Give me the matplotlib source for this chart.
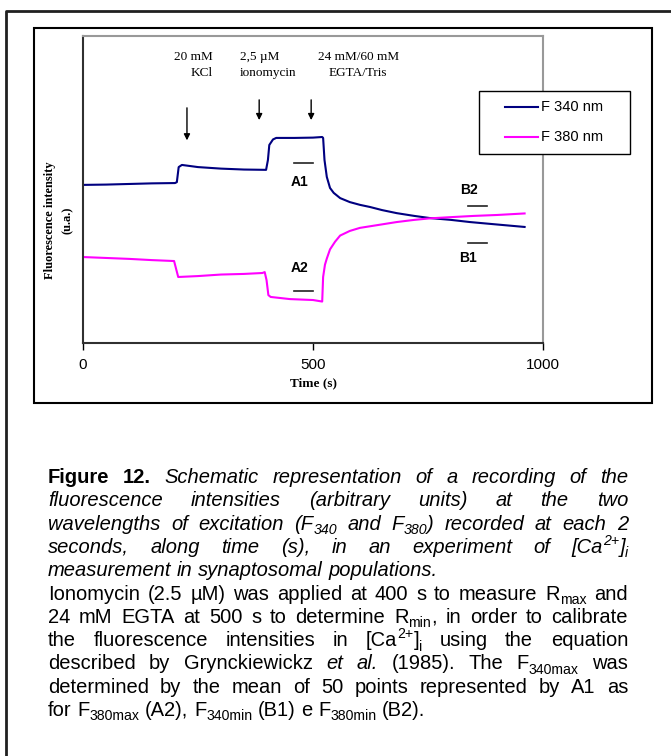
import matplotlib
matplotlib.use("Agg")
import matplotlib.pyplot as plt
from matplotlib.patches import Rectangle
from matplotlib.lines import Line2D

# traces (time in s, intensity in arbitrary units)
t340 = [0, 50, 100, 150, 200, 204, 208, 215, 250, 300, 350, 398, 402, 405, 413, 420,
        460, 500, 520, 522, 525, 530, 537, 545, 559, 580, 602, 624, 650, 682, 720,
        754, 800, 841, 900, 960]
f340 = [51.5, 51.6, 51.8, 52.0, 52.1, 52.4, 57.3, 58.0, 57.3, 56.8, 56.5, 56.4, 59.6,
        64.5, 66.3, 66.8, 66.8, 66.9, 67.1, 66.8, 59.6, 54.1, 50.5, 48.9, 47.2, 45.9,
        45.0, 44.3, 43.3, 42.3, 41.4, 40.7, 40.1, 39.4, 38.6, 37.8]
t380 = [0, 50, 100, 150, 198, 203, 207, 250, 300, 350, 390, 395, 399, 403, 408, 450,
        500, 520, 522, 526, 530, 537, 548, 559, 580, 602, 640, 682, 720, 754, 800,
        850, 900, 960]
f380 = [28.0, 27.7, 27.4, 27.0, 26.7, 23.8, 21.5, 21.8, 22.3, 22.5, 22.8, 23.1, 20.5,
        15.6, 15.0, 14.3, 14.0, 13.5, 21.5, 25.5, 27.5, 30.5, 33.0, 35.0, 36.5, 37.5,
        38.4, 39.4, 40.1, 40.6, 41.0, 41.4, 41.7, 42.2]
series = ["F 340 nm", "F 380 nm"]
colors = ["#000080", "#ff00ff"]

# additions (arrows)
add_t = [226, 383, 496]
add_txt = [("20 mM", "KCl"), ("2,5 \u00b5M", "ionomycin"), ("24 mM/60 mM", "EGTA/Tris")]

# averaged stretches A1, A2, B1, B2
mark_lbl = ["A1", "A2", "B1", "B2"]
mark_t0 = [459, 459, 838, 838]
mark_t1 = [500, 500, 878, 878]
mark_y = [58.6, 16.9, 32.6, 44.6]
mark_lbl_t = [471, 471, 837, 839]
mark_lbl_y = [52.4, 24.4, 27.7, 49.8]

xticks = [0, 500, 1000]

W, H = 671, 756
fig = plt.figure(figsize=(W / 100, H / 100), dpi=100)

def fx(px):
    return px / W

def fy(py):
    return 1 - py / H

# frames
fig.add_artist(Line2D([fx(6), fx(6), 1], [0, fy(11), fy(11)], color="#202020", lw=2))
fig.add_artist(Rectangle((fx(34), fy(403)), fx(652) - fx(34), fy(28) - fy(403),
                         fill=False, ec="black", lw=1.5))

ax = fig.add_axes([fx(83), fy(343), fx(543) - fx(83), fy(36) - fy(343)])
ax.plot(t340, f340, color=colors[0], lw=1.5)
ax.plot(t380, f380, color=colors[1], lw=1.5)
ax.set_xlim(0, 1000)
ax.set_ylim(0, 100)
ax.set_yticks([])
ax.set_xticks(xticks)
ax.tick_params(axis="x", direction="out", length=5, width=1, pad=6,
               labelsize=11, labelfontfamily="Liberation Sans")
for s in ["top", "right"]:
    ax.spines[s].set_color("#999999")
    ax.spines[s].set_linewidth(1.5)
for s in ["left", "bottom"]:
    ax.spines[s].set_color("#303030")
    ax.spines[s].set_linewidth(1.5)

ax.set_xlabel("Time (s)", family="Liberation Serif", weight="bold", fontsize=9.5)
ax.xaxis.set_label_coords(0.5, -0.112)
ax.set_ylabel("Fluorescence intensity\n(u.a.)", family="Liberation Serif",
              weight="bold", fontsize=9, linespacing=1.6)
ax.yaxis.set_label_coords(-0.02, 0.40)

for t, (l1, l2) in zip(add_t, add_txt):
    ax.annotate("", xy=(t, 65.1 if t < 300 else 71.7), xytext=(t, 77.5 if t < 300 else 80.1),
                arrowprops=dict(arrowstyle="-|>", color="black", lw=1, mutation_scale=9))
ax.text(283, 93.2, add_txt[0][0], ha="right", va="center", family="Liberation Serif", fontsize=9.5)
ax.text(283, 87.9, add_txt[0][1], ha="right", va="center", family="Liberation Serif", fontsize=9.5)
ax.text(341, 93.2, add_txt[1][0], ha="left", va="center", family="Liberation Serif", fontsize=9.5)
ax.text(341, 87.9, add_txt[1][1], ha="left", va="center", family="Liberation Serif", fontsize=9.5)
ax.text(598, 93.2, add_txt[2][0], ha="center", va="center", family="Liberation Serif", fontsize=9.5)
ax.text(598, 87.9, add_txt[2][1], ha="center", va="center", family="Liberation Serif", fontsize=9.5)

for lbl, a, b, y, lt, ly in zip(mark_lbl, mark_t0, mark_t1, mark_y, mark_lbl_t, mark_lbl_y):
    ax.plot([a, b], [y, y], color="#222222", lw=1.2)
    ax.text(lt, ly, lbl, ha="center", va="center", family="Liberation Sans",
            weight="bold", fontsize=10)

# legend box (Excel style, overlapping the right border)
fig.add_artist(Rectangle((fx(479), fy(154)), fx(630) - fx(479), fy(91) - fy(154),
                         fc="white", ec="black", lw=1, zorder=5))
for i, (name, c) in enumerate(zip(series, colors)):
    yy = 107 + 30 * i
    fig.add_artist(Line2D([fx(505), fx(538)], [fy(yy), fy(yy)], color=c, lw=1.5, zorder=6))
    fig.text(fx(541), fy(yy), name, ha="left", va="center", family="Liberation Sans",
             fontsize=10.5, zorder=6)

# caption, justified like the original
caption = [
    ([("Figure 12.", "b"), (" Schematic representation of a recording of the", "i")], True),
    ([("fluorescence intensities (arbitrary units) at the two", "i")], True),
    ([("wavelengths of excitation (F_{340} and F_{380}) recorded at each 2", "i")], True),
    ([("seconds, along time (s), in an experiment of [Ca^{2+}]_{i}", "i")], True),
    ([("measurement in synaptosomal populations.", "i")], False),
    ([("Ionomycin (2.5 \u00b5M) was applied at 400 s to measure R_{max} and", "n")], True),
    ([("24 mM EGTA at 500 s to determine R_{min}, in order to calibrate", "n")], True),
    ([("the fluorescence intensities in [Ca^{2+}]_{i} using the equation", "n")], True),
    ([("described by Grynckiewickz ", "n"), ("et al.", "i"),
      (" (1985). The F_{340max} was", "n")], True),
    ([("determined by the mean of 50 points represented by A1 as", "n")], True),
    ([("for F_{380max} (A2), F_{340min} (B1) e F_{380min} (B2).", "n")], False),
]
cap_size = 14.5
cap_px = cap_size * 100 / 72


def parse(segments):
    words, cur = [], []
    for text, style in segments:
        i = 0
        while i < len(text):
            ch = text[i]
            if ch == " ":
                if cur:
                    words.append(cur)
                cur = []
                i += 1
            elif ch in "_^" and i + 1 < len(text) and text[i + 1] == "{":
                j = text.index("}", i)
                cur.append((text[i + 2:j], style, "sub" if ch == "_" else "sup"))
                i = j + 1
            else:
                if cur and cur[-1][1] == style and cur[-1][2] == "n":
                    cur[-1] = (cur[-1][0] + ch, style, "n")
                else:
                    cur.append((ch, style, "n"))
                i += 1
    if cur:
        words.append(cur)
    return words


renderer = fig.canvas.get_renderer()
x0, x1 = 48, 628
base0, step = 483, 23.3
for k, (segments, justify) in enumerate(caption):
    base = base0 + k * step
    words = parse(segments)
    placed = []
    widths = []
    for w in words:
        arts = []
        wsum = 0
        for txt, style, kind in w:
            size = cap_size * (0.7 if kind != "n" else 1)
            dy = {"n": 0, "sub": 0.22 * cap_px, "sup": -0.38 * cap_px}[kind]
            t = fig.text(0, fy(base + dy), txt, ha="left", va="baseline",
                         family="Liberation Sans", fontsize=size,
                         weight="bold" if style == "b" else "normal",
                         style="italic" if style == "i" else "normal")
            wd = t.get_window_extent(renderer).width
            arts.append((t, wsum))
            wsum += wd
        placed.append(arts)
        widths.append(wsum)
    if justify and len(words) > 1:
        gap = (x1 - x0 - sum(widths)) / (len(words) - 1)
    else:
        gap = 0.278 * cap_px
    x = x0
    for arts, wd in zip(placed, widths):
        for t, off in arts:
            t.set_x(fx(x + off))
        x += wd + gap

fig.savefig("out.png", dpi=100)
